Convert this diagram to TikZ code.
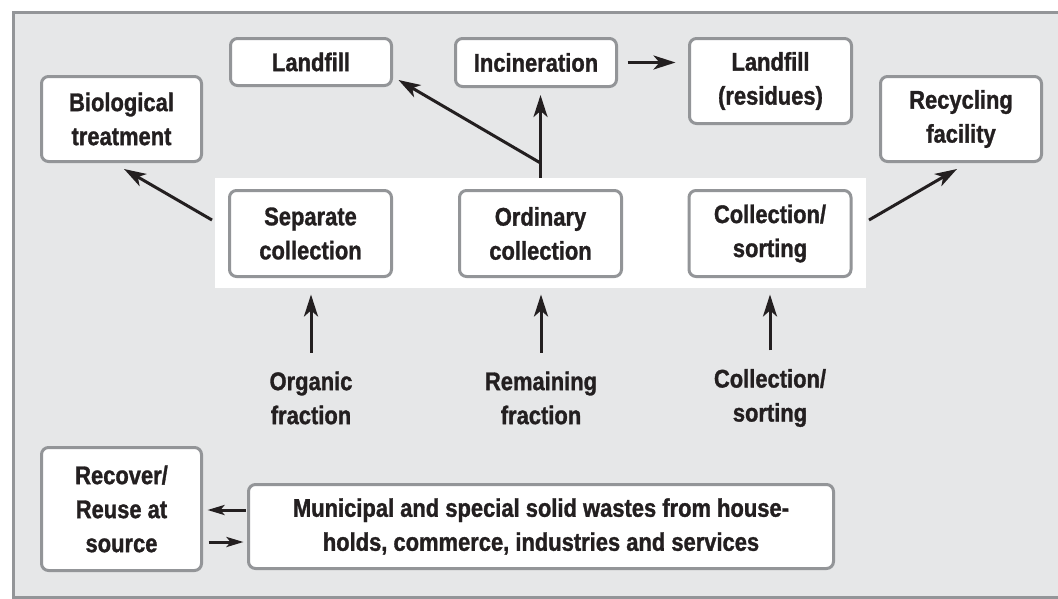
\documentclass[tikz,border=0pt]{standalone}
\usepackage{fontspec}
\setmainfont{Liberation Sans}[FakeStretch=0.86, BoldFeatures={FakeStretch=0.86, FakeBold=1.2}]
\usetikzlibrary{arrows.meta,calc}
\definecolor{bg}{HTML}{E6E7E8}
\definecolor{framegray}{HTML}{939598}
\definecolor{ink}{HTML}{231F20}
\begin{document}
\begin{tikzpicture}[x=1pt,y=-1pt,
  txt/.style={text=ink, font=\bfseries\fontsize{25.5}{34}\selectfont, align=center, inner sep=0pt},
  box/.style={txt, draw=framegray, line width=3pt, rounded corners=7pt, fill=white},
  arr/.style={draw=ink, line width=3pt, -{Stealth[length=22pt,width=14pt,inset=6pt]}},
  sarr/.style={draw=ink, line width=3pt, -{Stealth[length=17pt,width=10pt,inset=4pt]}}]
\useasboundingbox (0,0) rectangle (1058,598);
\fill[white] (0,0) rectangle (1058,598);
\begin{scope}
  \clip (0,0) rectangle (1058,598);
  \draw[draw=framegray, fill=bg, line width=3pt] (13,12) rectangle (1075,597);
\end{scope}
% white band
\node[fill=white, inner sep=0pt, minimum width=651pt, minimum height=110pt] (band) at (540.5,233) {};
% boxes
\node[box, minimum width=160pt, minimum height=85pt] (bio) at (121.5,119) {Biological\\treatment};
\node[box, minimum width=161pt, minimum height=47pt] (land) at (311,62) {Landfill};
\node[box, minimum width=161pt, minimum height=48pt] (inc) at (536,62.5) {Incineration};
\node[box, minimum width=162pt, minimum height=85pt] (landres) at (770.5,81) {Landfill\\(residues)};
\node[box, minimum width=161pt, minimum height=85pt] (rec) at (961,119) {Recycling\\facility};
\node[box, minimum width=162pt, minimum height=86pt] (sep) at (310.5,233.5) {Separate\\collection};
\node[box, minimum width=162pt, minimum height=86pt] (ord) at (540.5,233.5) {Ordinary\\collection};
\node[box, minimum width=162pt, minimum height=86pt] (col) at (770,233.5) {Collection/\\sorting};
\node[box, minimum width=160pt, minimum height=123pt] (recv) at (121.5,509) {Recover/\\Reuse at\\source};
\node[box, minimum width=585pt, minimum height=84pt] (mun) at (541,526.5) {Municipal and special solid wastes from house-\\holds, commerce, industries and services};
% labels
\node[txt] (org) at (311,398) {Organic\\fraction};
\node[txt] (rem) at (541,398) {Remaining\\fraction};
\node[txt] (cs) at (770,398) {Collection/\\sorting};
% connector ends
\coordinate (sepOut) at (212,220);
\coordinate (colOut) at (869,220);
\coordinate (ordOut) at (540.5,178);
\coordinate (junc) at (540.5,163);
% arrows
\draw[arr] (sepOut) -- ($(bio.south)+(2.5,6)$);
\draw[arr] (colOut) -- ($(rec.south)+(-4,6)$);
\draw[arr] (ordOut) -- ($(ordOut |- inc.south)+(0,7)$);
\draw[arr] (junc) -- ($(land.east)+(5.5,18)$);
\draw[arr] ($(inc.east)+(9.5,0)$) -- ($(inc.east -| landres.west)+(-12.5,0)$);
\draw[arr] ($(org.north)+(0,-18.5)$) -- ($(org.north |- sep.south)+(0,16.5)$);
\draw[arr] ($(rem.north)+(0,-18.5)$) -- ($(rem.north |- ord.south)+(0,16.5)$);
\draw[arr] ($(cs.north)+(0,-18.5)$) -- ($(cs.north |- col.south)+(0,16.5)$);
\draw[sarr] ($(mun.west)+(-1.5,-16.5)$) -- ($(recv.east |- mun.west)+(4.5,-16.5)$);
\draw[sarr] ($(recv.east |- mun.west)+(5.5,15.5)$) -- ($(mun.west)+(-3.5,15.5)$);
\end{tikzpicture}
\end{document}
